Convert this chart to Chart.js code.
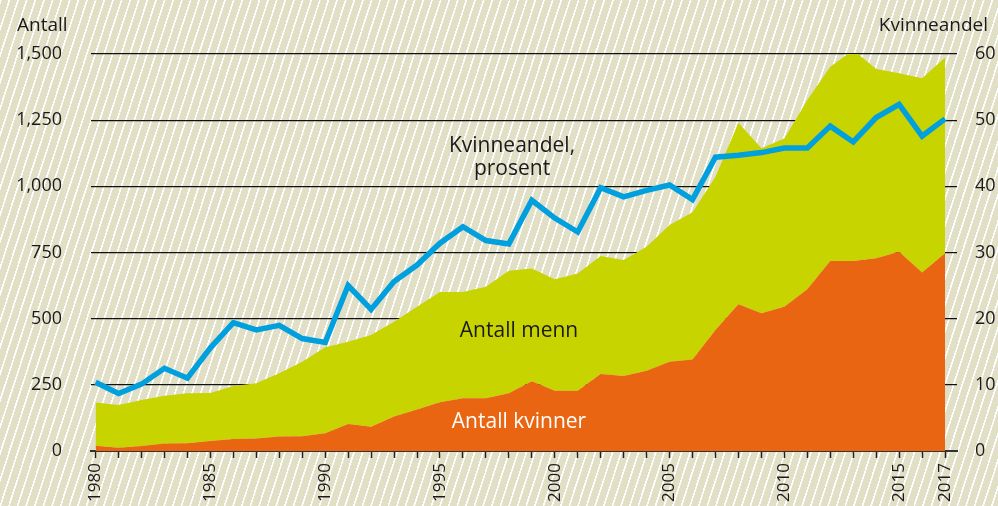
<!DOCTYPE html>
<html>
<head>
<meta charset="utf-8">
<script src="https://cdn.jsdelivr.net/npm/chart.js@4"></script>
<style>
  html, body {
    margin: 0;
    padding: 0;
  }
  body {
    width: 998px;
    height: 506px;
    overflow: hidden;
    background-color: #e2dfc7;
    background-image: repeating-linear-gradient(108deg, #ffffff 0px, #ffffff 1.4px, #e2dfc7 1.9px, #e2dfc7 8.2px);
  }
  canvas {
    display: block;
  }
</style>
</head>
<body>
<canvas id="kvinneChart" width="998" height="506"></canvas>
<script>
// years 1980-2017
const years = [
  1980, 1981, 1982, 1983, 1984, 1985, 1986, 1987, 1988, 1989,
  1990, 1991, 1992, 1993, 1994, 1995, 1996, 1997, 1998, 1999,
  2000, 2001, 2002, 2003, 2004, 2005, 2006, 2007, 2008, 2009,
  2010, 2011, 2012, 2013, 2014, 2015, 2016, 2017,
];

// Antall kvinner
const women = [
  20, 12, 19, 28, 29, 38, 45, 47, 55, 56,
  67, 102, 92, 130, 157, 184, 199, 199, 218, 264,
  228, 228, 291, 283, 303, 337, 346, 457, 554, 520,
  545, 611, 718, 718, 728, 753, 674, 747,
];

// Antall menn
const men = [
  163, 162, 174, 181, 189, 181, 201, 209, 239, 281,
  325, 311, 346, 358, 388, 417, 402, 422, 463, 426,
  421, 443, 446, 439, 469, 517, 556, 579, 686, 624,
  636, 715, 734, 797, 715, 674, 734, 740,
];

// Kvinneandel, prosent
const share = [
  10.4, 8.7, 10.1, 12.5, 11.0, 15.6, 19.4, 18.3, 19.0, 17.0,
  16.4, 25.0, 21.4, 25.6, 28.1, 31.4, 33.9, 31.8, 31.3, 37.9,
  35.2, 33.1, 39.8, 38.4, 39.4, 40.2, 38.0, 44.4, 44.7, 45.1,
  45.8, 45.8, 49.1, 46.7, 50.4, 52.4, 47.6, 50.2,
];

const leftTicks = [0, 250, 500, 750, 1000, 1250, 1500];
const rightTicks = [0, 10, 20, 30, 40, 50, 60];
const labelYears = [1980, 1985, 1990, 1995, 2000, 2005, 2010, 2015, 2017];

const FONT = "'Open Sans', 'DejaVu Sans', sans-serif";

// axis titles and in-chart labels
const textPlugin = {
  id: "texts",
  afterDatasetsDraw(chart) {
    const c = chart.ctx;
    c.save();
    c.textBaseline = "alphabetic";

    c.font = "19px " + FONT;
    c.fillStyle = "#1a1a1a";
    c.textAlign = "left";
    c.fillText("Antall", 17, 31);
    c.textAlign = "right";
    c.fillText("Kvinneandel", 988, 31);

    c.font = "21px " + FONT;
    c.textAlign = "center";
    c.fillStyle = "#1a1a1a";
    c.fillText("Kvinneandel,", 512, 152);
    c.fillText("prosent", 512, 175);
    c.fillText("Antall menn", 519, 337);
    c.fillStyle = "#ffffff";
    c.fillText("Antall kvinner", 519, 428);
    c.restore();
  },
};

const ctx = document.getElementById("kvinneChart").getContext("2d");
const kvinneChart = new Chart(ctx, {
  type: "line",
  data: {
    labels: years,
    datasets: [
      {
        label: "Kvinneandel, prosent",
        data: share,
        yAxisID: "y1",
        borderColor: "#00a0df",
        borderWidth: 5.5,
        pointRadius: 0,
        fill: false,
        borderJoinStyle: "miter",
        order: 0,
      },
      {
        label: "Antall kvinner",
        data: women,
        yAxisID: "y",
        stack: "antall",
        backgroundColor: "#e96511",
        borderWidth: 0,
        pointRadius: 0,
        fill: "origin",
        order: 1,
      },
      {
        label: "Antall menn",
        data: men,
        yAxisID: "y",
        stack: "antall",
        backgroundColor: "#c8d400",
        borderWidth: 0,
        pointRadius: 0,
        fill: "-1",
        order: 2,
      },
    ],
  },
  options: {
    responsive: false,
    animation: false,
    layout: {
      padding: { top: 54, left: 0, right: 0, bottom: 0 },
    },
    plugins: {
      legend: { display: false },
      tooltip: { enabled: false },
      title: { display: false },
    },
    scales: {
      x: {
        type: "linear",
        min: 1979.8,
        max: 2017.52,
        afterBuildTicks: (scale) => {
          scale.ticks = years.map((v) => ({ value: v }));
        },
        afterFit: (scale) => {
          scale.height = 55;
        },
        grid: {
          drawOnChartArea: false,
          drawTicks: true,
          tickLength: 7,
          tickColor: "#222222",
          tickWidth: 1.5,
        },
        border: {
          display: true,
          color: "#333333",
          width: 2,
        },
        ticks: {
          autoSkip: false,
          minRotation: 90,
          maxRotation: 90,
          padding: 5,
          color: "#1a1a1a",
          font: { family: FONT, size: 17 },
          callback: (v) => (labelYears.includes(v) ? String(v) : ""),
        },
      },
      y: {
        position: "left",
        stacked: true,
        min: 0,
        max: 1500,
        afterBuildTicks: (scale) => {
          scale.ticks = leftTicks.map((v) => ({ value: v }));
        },
        afterFit: (scale) => {
          scale.width = 91;
        },
        grid: {
          color: "#111111",
          lineWidth: 1.2,
          drawTicks: false,
        },
        border: { display: false },
        ticks: {
          padding: 29,
          color: "#1a1a1a",
          font: { family: FONT, size: 18 },
          callback: (v) => v.toLocaleString("en-US"),
        },
      },
      y1: {
        position: "right",
        min: 0,
        max: 60,
        afterBuildTicks: (scale) => {
          scale.ticks = rightTicks.map((v) => ({ value: v }));
        },
        afterFit: (scale) => {
          scale.width = 41;
        },
        grid: { display: false, drawTicks: false },
        border: { display: false },
        ticks: {
          padding: 18,
          color: "#1a1a1a",
          font: { family: FONT, size: 18 },
        },
      },
    },
  },
  plugins: [textPlugin],
});
</script>
</body>
</html>
